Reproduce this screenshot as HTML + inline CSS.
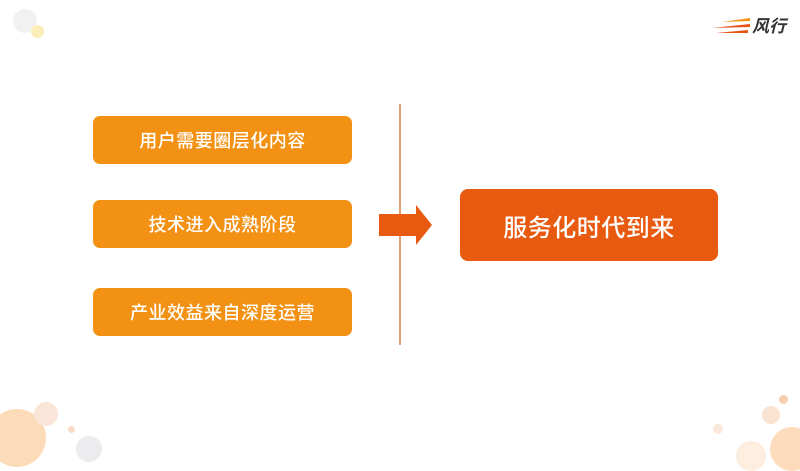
<!DOCTYPE html>
<html><head><meta charset="utf-8"><style>
body{margin:0;width:800px;height:450px;background:#fff;position:relative;overflow:hidden;font-family:"Liberation Sans","Noto Sans CJK SC",sans-serif}
.b{position:absolute;background:#F29113;color:#fff;border-radius:7px;display:flex;align-items:center;justify-content:center;font-size:18px;letter-spacing:0.5px;font-weight:500}
.c{position:absolute;border-radius:50%}
</style></head><body>
<div class="c" style="left:13px;top:9px;width:24px;height:24px;background:#eeeeee;opacity:.8"></div>
<div class="c" style="left:31px;top:25px;width:13px;height:13px;background:#fbeeb8"></div>
<div class="c" style="left:-12px;top:409px;width:58px;height:58px;background:#fcdcb8"></div>
<div class="c" style="left:34px;top:402px;width:24px;height:24px;background:#fbe5d8"></div>
<div class="c" style="left:68px;top:426px;width:7px;height:7px;background:#f8dcc8"></div>
<div class="c" style="left:76px;top:436px;width:26px;height:26px;background:#ececef"></div>
<div class="c" style="left:779px;top:395px;width:9px;height:9px;background:#f6cfb0"></div>
<div class="c" style="left:762px;top:406px;width:18px;height:18px;background:#fbe3d2"></div>
<div class="c" style="left:770px;top:427px;width:44px;height:44px;background:#fcdcbc"></div>
<div class="c" style="left:736px;top:441px;width:30px;height:30px;background:#fdeee0"></div>
<div class="c" style="left:713px;top:424px;width:10px;height:10px;background:#fbe8da"></div>
<svg style="position:absolute;left:710px;top:14px" width="80" height="22">
<path d="M2 14 L40 10 L40 13 Z" fill="#E8531A"/><path d="M12 8 L40 4 L40 7 Z" fill="#F29113"/><path d="M6 19 L38 16 L38 19 Z" fill="#E8531A"/>
<text x="42" y="18" font-size="17" font-style="italic" font-weight="bold" fill="#333" font-family="Noto Sans CJK SC">风行</text></svg>
<div class="b" style="left:93px;top:116px;width:259px;height:48px">用户需要圈层化内容</div>
<div class="b" style="left:93px;top:200px;width:259px;height:48px">技术进入成熟阶段</div>
<div class="b" style="left:93px;top:288px;width:259px;height:48px">产业效益来自深度运营</div>
<div style="position:absolute;left:399px;top:104px;width:2px;height:241px;background:#E8A070"></div>
<svg style="position:absolute;left:378px;top:204px" width="56" height="42"><path d="M1 10 H38 V1 L54 21 L38 41 V32 H1 Z" fill="#E85A0F"/></svg>
<div class="b" style="left:460px;top:189px;width:258px;height:72px;background:#E85A0F;font-size:24px;border-radius:8px">服务化时代到来</div>
</body></html>
